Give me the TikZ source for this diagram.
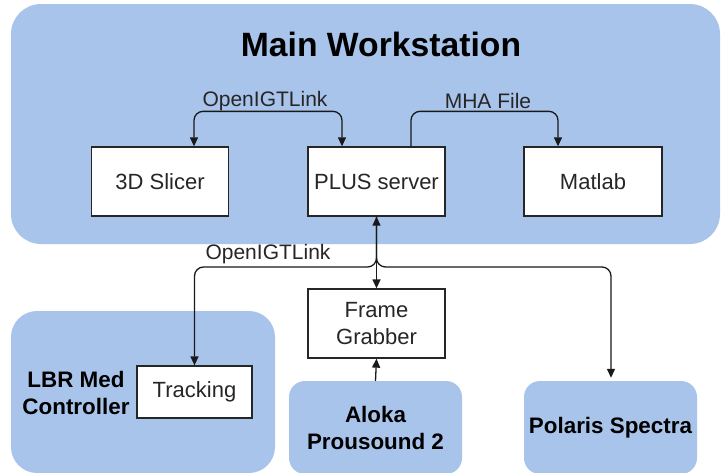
\documentclass[tikz,border=0pt]{standalone}
\usepackage{fontspec}
\setmainfont{Liberation Sans}
\usetikzlibrary{arrows.meta}
\definecolor{grpblue}{HTML}{A9C4EB}
\definecolor{txt}{HTML}{262626}
\begin{document}
\begin{tikzpicture}[x=1pt,y=-1pt,
 group/.style={fill=grpblue, draw=none, rounded corners=#1, inner sep=0},
 comp/.style={draw=black!85, fill=white, line width=1.3pt, minimum height=69pt, text=txt,
   font=\fontsize{22}{27}\selectfont, align=center, inner sep=0},
 conn/.style={line width=1.3pt, draw=black!90, rounded corners=9pt, -{Triangle[length=9pt,width=8pt]}},
 both/.style={{Triangle[length=9pt,width=8pt]}-{Triangle[length=9pt,width=8pt]}},
 elabel/.style={font=\fontsize{21}{24}\selectfont, text=txt, inner sep=0},
 glabel/.style={font=\bfseries\fontsize{22.4}{27}\selectfont, align=center, inner sep=0}]
\useasboundingbox (0,0) rectangle (721,472);
% groups
\node[group=30pt, minimum width=709pt, minimum height=240pt] (main) at (365.5,124) {};
\node[font=\bfseries\fontsize{33.7}{40}\selectfont, inner sep=0] (title) at (381,44) {Main Workstation};
\node[group=26pt, minimum width=264pt, minimum height=162pt] (lbr) at (143,392) {};
\node[group=16pt, minimum width=173pt, minimum height=93pt] (aloka) at (375.5,427.5) {};
\node[group=16pt, minimum width=173pt, minimum height=93pt] (polaris) at (610.5,427.5) {};
\node[glabel] (lbrtext) at (76,393) {LBR Med\\Controller};
\node[glabel] (alokatext) at (375.5,428) {Aloka\\Prousound 2};
\node[glabel] (polaristext) at (610.5,428) {Polaris Spectra};
% components
\node[comp, minimum width=137pt] (slicer) at (160,181.5) {3D Slicer};
\node[comp, minimum width=137pt] (plus) at (376.5,181.5) {PLUS server};
\node[comp, minimum width=138pt] (matlab) at (593,181.5) {Matlab};
\node[comp, minimum width=137pt] (fg) at (376.5,323.5) {Frame\\Grabber};
\node[comp, minimum width=115pt, minimum height=52pt] (tracking) at (194.5,392) {Tracking};
% connectors
\draw[conn, both] ([xshift=34pt]slicer.north) -- ++(0,-35) -| ([xshift=-34.5pt]plus.north);
\node[elabel] (l1) at (265,101) {OpenIGTLink};
\draw[conn] ([xshift=34.5pt]plus.north) -- ++(0,-35) -| ([xshift=-35pt]matlab.north);
\node[elabel] (l2) at (488,101) {MHA File};
\coordinate (j) at (376.5,267);
\draw[conn] (plus.south) |- (tracking.north |- j) -- (tracking.north);
\draw[conn] (plus.south) |- ([xshift=0.5pt]polaris.north |- j) -- ([xshift=0.5pt,yshift=3pt]polaris.north);
\draw[conn, both] (plus.south) -- (fg.north);
\node[elabel] (l3) at (268,254) {OpenIGTLink};
\draw[conn] (aloka.north) -- (fg.south);
\end{tikzpicture}
\end{document}
